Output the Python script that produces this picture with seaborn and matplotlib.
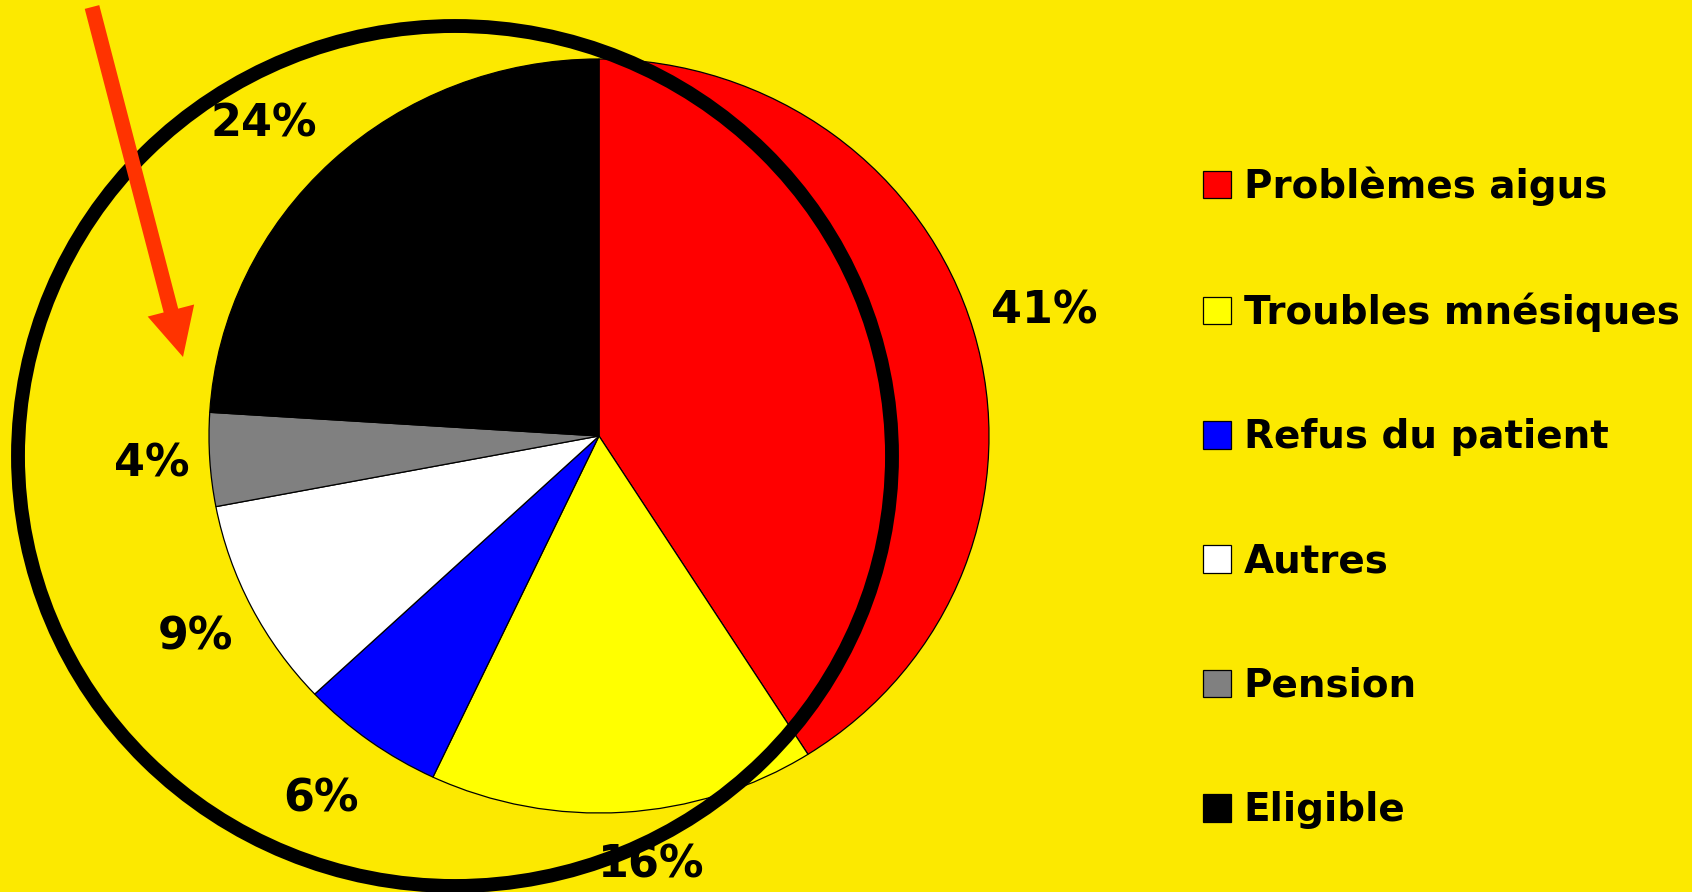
import matplotlib
matplotlib.use('Agg')
import matplotlib.pyplot as plt
import seaborn as sns
from matplotlib.patches import Ellipse, FancyArrow

# données du graphique
categories = ['Problèmes aigus', 'Troubles mnésiques', 'Refus du patient',
              'Autres', 'Pension', 'Eligible']
shares = [41, 16, 6, 9, 4, 24]
slice_colors = ['#FF0000', '#FFFF00', '#0000FF', '#FFFFFF', '#808080', '#000000']

# petits décalages des étiquettes (px), comme dans Excel
label_nudge = [(0, 0), (23, -19), (-5, 0), (10, -3), (16, 0), (-18, 15)]

bg = '#FCE900'

sns.set_style('white')
plt.rcParams['font.family'] = ['DejaVu Sans']
plt.rcParams['text.color'] = 'black'

W, H = 1692, 892
fig = plt.figure(figsize=(W / 100, H / 100), dpi=100, facecolor=bg)

# camembert : 1 unité = rayon (ellipse 390 x 377 px), centre à (599, 436) depuis le haut
cx, cy, rx, ry = 599, 436, 390, 377
ax = fig.add_axes([0, 0, 1, 1])
ax.set_facecolor(bg)
wedges, _, pct = ax.pie(shares, colors=slice_colors, startangle=90, counterclock=False,
                        autopct='%.0f%%', pctdistance=1.19,
                        wedgeprops=dict(edgecolor='black', linewidth=0.9),
                        textprops=dict(fontsize=32, fontweight='bold', color='black'))
for t, (dx, dy) in zip(pct, label_nudge):
    x, y = t.get_position()
    t.set_position((x + dx / rx, y - dy / ry))
ax.set_aspect('auto')
ax.set_xlim(-cx / rx, (W - cx) / rx)
ax.set_ylim(-(H - cy) / ry, cy / ry)
ax.axis('off')

# calque en pixels pour le cercle et la flèche
ov = fig.add_axes([0, 0, 1, 1])
ov.set_xlim(0, W)
ov.set_ylim(H, 0)
ov.axis('off')
ov.patch.set_alpha(0)
ov.add_patch(Ellipse((455, 456), 874, 860, fill=False, ec='black', lw=10))
ov.add_patch(FancyArrow(92, 7, 91, 350, width=15, head_width=48, head_length=48,
                        length_includes_head=True, color='#FF3300', lw=0))

fig.legend(wedges, categories, loc='center left', bbox_to_anchor=(1203 / W, 1 - 498 / H),
           frameon=False, prop=dict(size=28, weight='bold'), labelcolor='black',
           handlelength=0.72, handleheight=0.72, handletextpad=0.33,
           labelspacing=2.22, borderpad=0, borderaxespad=0)

fig.savefig('out.png', dpi=100, facecolor=bg)
